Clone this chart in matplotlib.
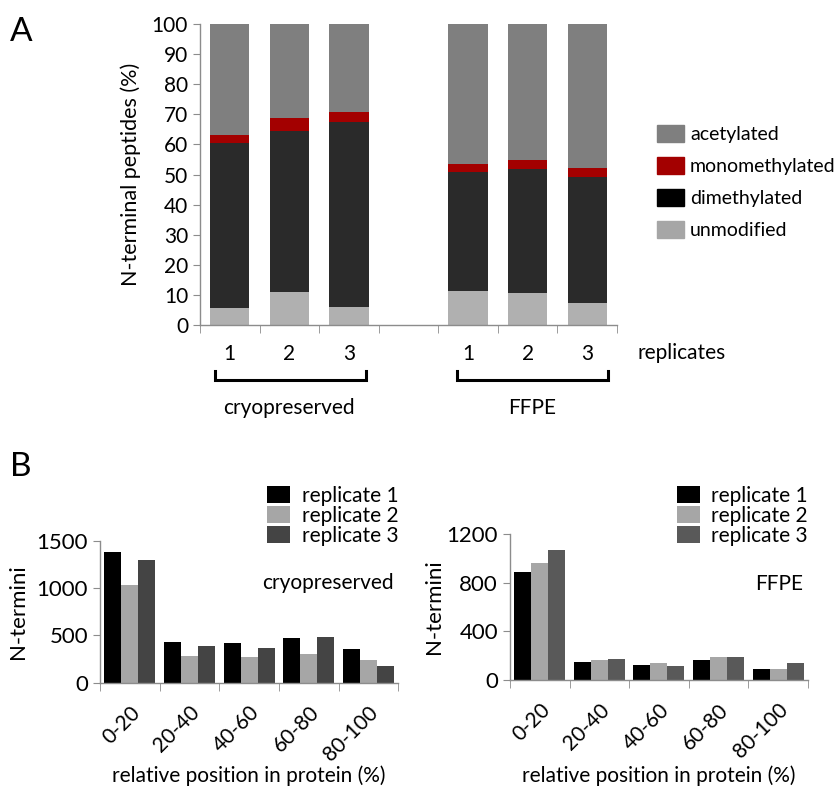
import numpy as np
import matplotlib
matplotlib.use('Agg')
import matplotlib.pyplot as plt
import matplotlib.patches as mpatches

plt.rcParams['font.family'] = ['Lato', 'DejaVu Sans']

# ── Panel A data (% of N-terminal peptides) ─────────────────────────────────
a_ticklabels = ['1', '2', '3', '', '1', '2', '3']
unmodified     = [5.5, 10.9, 6.0, 0, 11.3, 10.5, 7.2]
dimethylated   = [54.9, 53.5, 61.4, 0, 39.4, 41.4, 42.1]
monomethylated = [2.8, 4.3, 3.4, 0, 2.7, 3.0, 2.9]
acetylated     = [36.8, 31.3, 29.2, 0, 46.6, 45.1, 47.8]

# ── Panel B data (N-termini counts) ─────────────────────────────────────────
positions = ['0-20', '20-40', '40-60', '60-80', '80-100']
cryo_rep1 = [1384, 433, 422, 468, 352]
cryo_rep2 = [1028, 285, 271, 306, 236]
cryo_rep3 = [1292, 391, 363, 486, 172]
ffpe_rep1 = [890, 148, 123, 162, 93]
ffpe_rep2 = [964, 167, 140, 189, 88]
ffpe_rep3 = [1066, 175, 118, 189, 145]

AXCOL = '#8c8c8c'
fig = plt.figure(figsize=(8.4, 7.9), dpi=100)


def style_axes(ax):
    for s in ['top', 'right']:
        ax.spines[s].set_visible(False)
    for s in ['left', 'bottom']:
        ax.spines[s].set_color(AXCOL)
        ax.spines[s].set_linewidth(1.0)
    ax.tick_params(axis='both', colors=AXCOL, labelcolor='black')


# ── Panel A ─────────────────────────────────────────────────────────────────
axA = fig.add_axes([0.238, 0.5886, 0.4965, 0.381])
x = np.arange(len(a_ticklabels))
w = 0.66
c_acet, c_mono, c_dim, c_unmod = '#7f7f7f', '#a30000', '#2a2a2a', '#b0b0b0'
b0 = np.zeros(len(x))
axA.bar(x, unmodified, w, bottom=b0, color=c_unmod)
b0 = b0 + unmodified
axA.bar(x, dimethylated, w, bottom=b0, color=c_dim)
b0 = b0 + dimethylated
axA.bar(x, monomethylated, w, bottom=b0, color=c_mono)
b0 = b0 + monomethylated
axA.bar(x, acetylated, w, bottom=b0, color=c_acet)

axA.set_xlim(-0.5, 6.5)
axA.set_ylim(0, 100)
axA.set_yticks(range(0, 101, 10))
axA.set_xticks(x)
axA.set_xticklabels(a_ticklabels, fontsize=15)
axA.set_xticks(np.arange(-0.5, 7.0, 1.0), minor=True)
axA.tick_params(axis='x', which='major', length=0, pad=14)
axA.tick_params(axis='x', which='minor', length=6, direction='out', color=AXCOL)
axA.tick_params(axis='y', length=5, labelsize=15)
style_axes(axA)
axA.set_ylabel('N-terminal peptides (%)', fontsize=15.5, labelpad=8)

tr = axA.get_xaxis_transform()
for x0, x1, lab, xc in [(-0.25, 2.29, 'cryopreserved', 1.0),
                        (3.81, 6.35, 'FFPE', 5.08)]:
    axA.plot([x0, x0, x1, x1], [-0.153, -0.183, -0.183, -0.153],
             color='black', lw=2.2, transform=tr, clip_on=False,
             solid_joinstyle='miter')
    axA.text(xc, -0.275, lab, transform=tr, ha='center', va='center',
             fontsize=15)
axA.text(6.85, -0.093, 'replicates', transform=tr, ha='left',
         va='center', fontsize=15)

handles = [mpatches.Patch(color=c_acet, label='acetylated'),
           mpatches.Patch(color=c_mono, label='monomethylated'),
           mpatches.Patch(color='#000000', label='dimethylated'),
           mpatches.Patch(color='#a6a6a6', label='unmodified')]
fig.legend(handles=handles, loc='upper left', bbox_to_anchor=(0.782, 0.842),
           frameon=False, fontsize=14, handlelength=1.4, handleheight=1.0,
           handletextpad=0.3, labelspacing=0.7, borderpad=0,
           borderaxespad=0)

fig.text(0.012, 0.978, 'A', fontsize=24, va='top')
fig.text(0.012, 0.428, 'B', fontsize=24, va='top')


# ── Panel B ─────────────────────────────────────────────────────────────────
def panel_b(rect, r1, r2, r3, c3, ymax, yticks, tag, leg_y, tag_y, ylpad):
    ax = fig.add_axes(rect)
    xb = np.arange(len(positions))
    bw = 0.285
    ax.bar(xb - bw, r1, bw, color='#000000', label='replicate 1')
    ax.bar(xb, r2, bw, color='#a6a6a6', label='replicate 2')
    ax.bar(xb + bw, r3, bw, color=c3, label='replicate 3')
    ax.set_xlim(-0.5, 4.5)
    ax.set_ylim(0, ymax)
    ax.set_yticks(yticks)
    ax.set_xticks(xb)
    ax.set_xticklabels(positions, rotation=45, ha='right',
                       rotation_mode='anchor', fontsize=15)
    ax.set_xticks(np.arange(-0.5, 5.0, 1.0), minor=True)
    ax.tick_params(axis='x', which='major', length=0, pad=14)
    ax.tick_params(axis='x', which='minor', length=6, direction='out',
                   color=AXCOL)
    ax.tick_params(axis='y', length=5, labelsize=16)
    style_axes(ax)
    ax.set_ylabel('N-termini', fontsize=16, labelpad=ylpad)
    ax.set_xlabel('relative position in protein (%)', fontsize=15)
    ax.xaxis.set_label_coords(0.5, -0.585)
    ax.text(0.985, tag_y, tag, transform=ax.transAxes, ha='right',
            va='center', fontsize=15)
    ax.legend(loc='lower right', bbox_to_anchor=(1.0, leg_y), frameon=False,
              fontsize=15, handlelength=1.1, handleheight=0.9,
              handletextpad=0.55, labelspacing=0.0, borderpad=0,
              borderaxespad=0)
    return ax


panel_b([0.119, 0.1358, 0.355, 0.1798], cryo_rep1, cryo_rep2, cryo_rep3,
        '#444444', 1500, [0, 500, 1000, 1500], 'cryopreserved', 0.965, 0.70, 6)
panel_b([0.607, 0.139, 0.355, 0.185], ffpe_rep1, ffpe_rep2, ffpe_rep3,
        '#595959', 1200, [0, 400, 800, 1200], 'FFPE', 0.918, 0.66, 2)

fig.savefig('out.png', dpi=100)
